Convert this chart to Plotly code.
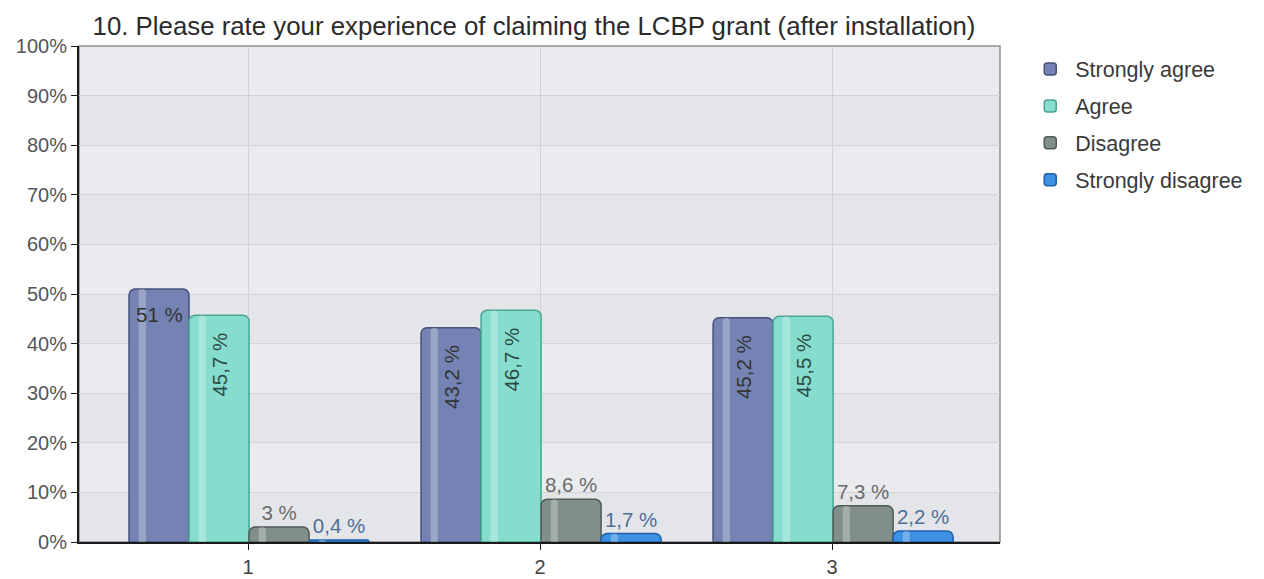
import plotly.graph_objects as go

categories = [1, 2, 3]
series_names = ["Strongly agree", "Agree", "Disagree", "Strongly disagree"]
strongly_agree = [51.0, 43.2, 45.2]
agree = [45.7, 46.7, 45.5]
disagree = [3.0, 8.6, 7.3]
strongly_disagree = [0.4, 1.7, 2.2]
y_ticks = [0, 10, 20, 30, 40, 50, 60, 70, 80, 90, 100]
y_tick_labels = [f"{v}%" for v in y_ticks]
title_text = "10. Please rate your experience of claiming the LCBP grant (after installation)"

values = [strongly_agree, agree, disagree, strongly_disagree]
fills = ["#7483b3", "#86ddcd", "#808f8a", "#3d91e3"]
edges = ["#46527c", "#4aa595", "#4f5b57", "#1f60aa"]
inside = [True, True, False, False]
text_colors = ["#333333", "#2c4a45", "#6b6b6b", "#4f7099"]

FONT = "Liberation Sans, Arial, sans-serif"
LABEL_SIZE = 20.5
bar_w = 0.2055
start = -0.4075

fig = go.Figure()
annotations = []
for i, (name, vals) in enumerate(zip(series_names, values)):
    labels = [f"{v:g} %".replace(".", ",") for v in vals]
    if inside[i]:
        trace_text = []
        for c, v, lab in zip(categories, vals, labels):
            if len(lab) <= 4:  # fits horizontally inside the bar
                trace_text.append("")
                annotations.append(dict(
                    x=c + start + i * bar_w + bar_w / 2, y=v, xref="x", yref="y",
                    text=lab, showarrow=False, yanchor="top", yshift=-12,
                    font=dict(family=FONT, size=LABEL_SIZE, color=text_colors[i])))
            else:
                trace_text.append(lab + "\u00a0\u00a0")
        extra = dict(textposition="inside", textangle=-90, insidetextanchor="end")
    else:
        trace_text = labels
        extra = dict(textposition="outside", textangle=0)
    fig.add_trace(go.Bar(
        x=categories, y=vals, name=name,
        width=bar_w, offset=start + i * bar_w,
        marker=dict(color=fills[i], line=dict(color=edges[i], width=1.5)),
        text=trace_text,
        textfont=dict(family=FONT, size=LABEL_SIZE, color=text_colors[i]),
        cliponaxis=False, legendgroup=name,
        hoverinfo="name+y", **extra,
    ))
# glossy highlight stripe on each bar (same data, narrow overlay)
for i, vals in enumerate(values):
    fig.add_trace(go.Bar(
        x=categories, y=vals, width=bar_w * 0.12, offset=start + i * bar_w + bar_w * 0.16,
        marker=dict(color="rgba(255,255,255,0.28)", line=dict(width=0)),
        showlegend=False, hoverinfo="skip",
    ))

# alternating horizontal bands
shapes = []
for k in range(10):
    shapes.append(dict(type="rect", xref="paper", yref="y", x0=0, x1=1, y0=k * 10, y1=k * 10 + 10,
                       fillcolor="#e9ebee" if k % 2 else "#e4e5e8", line=dict(width=0), layer="below"))
shapes.append(dict(type="rect", xref="paper", yref="paper", x0=0, x1=1, y0=0, y1=1,
                   line=dict(color="#8f8f8f", width=1.5), fillcolor="rgba(0,0,0,0)", layer="below"))

# the page body adds an 8px offset, so the figure is 8px smaller and margins shifted
fig.update_layout(
    width=1256, height=571,
    margin=dict(l=71, r=264, t=38, b=37),
    paper_bgcolor="white", plot_bgcolor="#e6e8eb",
    barmode="overlay", barcornerradius=6,
    title=dict(text=title_text, x=0.4188, xanchor="center", y=0.968, yanchor="middle",
               font=dict(family=FONT, size=25.8, color="#2b2b2b")),
    font=dict(family=FONT, size=20, color="#555555"),
    shapes=shapes,
    annotations=annotations,
    legend=dict(x=1.0274, y=0.995, xanchor="left", yanchor="top",
                font=dict(family=FONT, size=21.5, color="#3a3a3a"),
                tracegroupgap=6, itemwidth=40, bgcolor="rgba(0,0,0,0)"),
)
fig.update_xaxes(range=[0.4212, 3.575], tickvals=categories, ticktext=[str(c) for c in categories],
                 showgrid=True, gridcolor="#cfd0d2", gridwidth=1, zeroline=False,
                 showline=True, linecolor="#1a1a1a", linewidth=1.5, automargin=False,
                 ticks="outside", ticklen=6, tickcolor="#1a1a1a",
                 tickfont=dict(family=FONT, size=20, color="#444444"), fixedrange=True)
fig.update_yaxes(range=[0, 100], tickvals=y_ticks, ticktext=y_tick_labels,
                 showgrid=True, gridcolor="#d2d3d5", gridwidth=1, zeroline=False,
                 showline=True, linecolor="#1a1a1a", linewidth=2, automargin=False,
                 ticks="outside", ticklen=6, tickcolor="#1a1a1a",
                 tickfont=dict(family=FONT, size=20, color="#555555"), fixedrange=True)

fig.write_html("out.html")
